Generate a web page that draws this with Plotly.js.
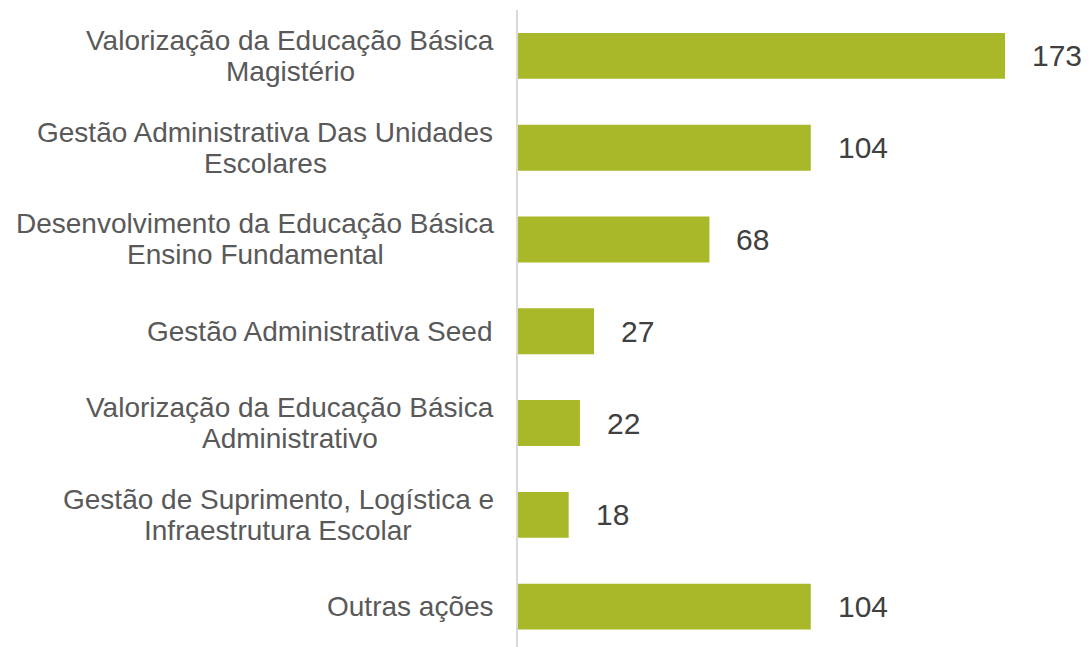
<!DOCTYPE html>
<html><head><meta charset="utf-8">
<script src="https://cdn.plot.ly/plotly-3.0.1.min.js"></script>
<style>html,body{margin:0;padding:0;overflow:hidden;background:#fff}</style>
</head><body>
<div id="chart" style="width:1089px;height:647px"></div>
<script>
const categories = [
  "Valorização da Educação Básica<br>Magistério",
  "Gestão Administrativa Das Unidades<br>Escolares",
  "Desenvolvimento da Educação Básica<br>Ensino Fundamental",
  "Gestão Administrativa Seed",
  "Valorização da Educação Básica<br>Administrativo",
  "Gestão de Suprimento, Logística e<br>Infraestrutura Escolar",
  "Outras ações"
];
const values = [173, 104, 68, 27, 22, 18, 104];

const FONT = 'Liberation Sans, Arial, sans-serif';
const LABEL_SIZE = 28;
const LINE_H = 31;
const GAP = 24;

const canvas = document.createElement('canvas');
const ctx = canvas.getContext('2d');
ctx.font = LABEL_SIZE + 'px "Liberation Sans", Arial, sans-serif';

const annotations = [];
categories.forEach((cat, i) => {
  const lines = cat.split('<br>');
  const wmax = Math.max(...lines.map(l => ctx.measureText(l).width));
  const n = lines.length;
  lines.forEach((line, j) => {
    annotations.push({
      x: 0, y: cat, xref: 'x', yref: 'y',
      text: line, showarrow: false, xanchor: 'center', yanchor: 'middle',
      xshift: -GAP - wmax / 2, yshift: ((n - 1) / 2 - j) * LINE_H,
      font: {family: FONT, size: LABEL_SIZE, color: '#595959'}
    });
  });
});

values.forEach((v, i) => annotations.push({
  x: v, y: categories[i], xref: 'x', yref: 'y',
  text: String(v), showarrow: false, xanchor: 'left', xshift: 25,
  font: {family: FONT, size: 30, color: '#404040'}
}));

Plotly.newPlot('chart', [{
  type: 'bar', orientation: 'h',
  x: values, y: categories,
  marker: {color: '#A8B829'},
  hoverinfo: 'none'
}], {
  width: 1089, height: 647,
  margin: {l: 518, r: 8, t: 10, b: 0},
  bargap: 0.5,
  paper_bgcolor: '#fff', plot_bgcolor: '#fff',
  showlegend: false,
  font: {family: FONT, color: '#595959'},
  xaxis: {range: [0, 200], showgrid: false, zeroline: false, showticklabels: false, showline: false, fixedrange: true},
  yaxis: {
    type: 'category', range: [6.44, -0.5],
    showline: true, linecolor: '#d9d9d9', linewidth: 2,
    showgrid: false, zeroline: false,
    showticklabels: false, ticks: ''
  },
  annotations: annotations
}, {displayModeBar: false, staticPlot: true});
</script>
</body></html>
